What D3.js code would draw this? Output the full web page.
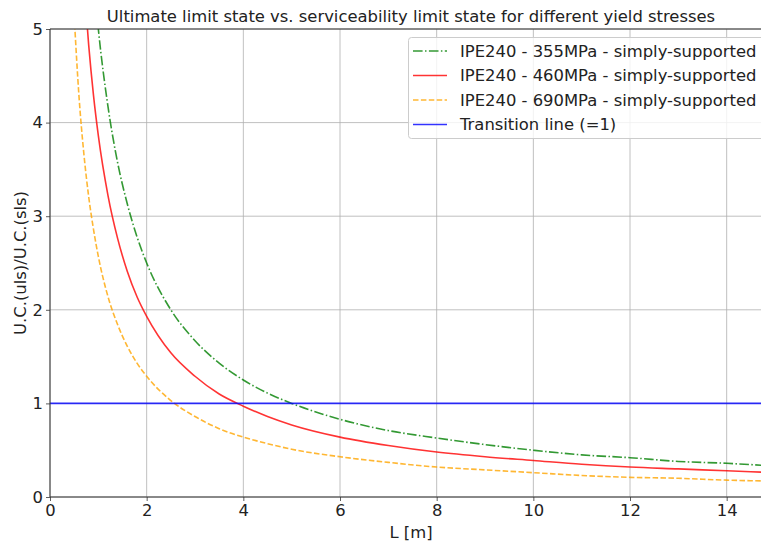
<!DOCTYPE html>
<html><head><meta charset="utf-8">
<script src="https://cdn.jsdelivr.net/npm/d3@7"></script>
<style>body{margin:0;background:#fff}svg{display:block}text{font-family:"DejaVu Sans",sans-serif;fill:#222}</style>
</head><body>
<svg id="c" width="761" height="543"></svg>
<script>
const title = "Ultimate limit state vs. serviceability limit state for different yield stresses";
const xLabel = "L [m]";
const yLabel = "U.C.(uls)/U.C.(sls)";
const xTicks = [0,2,4,6,8,10,12,14];
const yTicks = [0,1,2,3,4,5];
const seriesNames = ["IPE240 - 355MPa - simply-supported","IPE240 - 460MPa - simply-supported","IPE240 - 690MPa - simply-supported","Transition line (=1)"];
const L355 = [0.9,1.0,1.2,1.4,1.6,1.8,2,2.5,3,3.5,4,4.5,5,6,7,8,9,10,11,12,13,14,15];
const V355 = [5.56,5.0,4.17,3.57,3.13,2.78,2.5,2.0,1.67,1.43,1.25,1.11,1.0,0.83,0.71,0.63,0.56,0.5,0.45,0.42,0.38,0.36,0.33];
const L460 = [0.7,0.8,0.9,1.0,1.2,1.4,1.6,1.8,2,2.5,3,3.5,4,4.5,5,6,7,8,9,10,11,12,13,14,15];
const V460 = [5.51,4.83,4.29,3.86,3.22,2.76,2.41,2.14,1.93,1.54,1.29,1.10,0.97,0.86,0.77,0.64,0.55,0.48,0.43,0.39,0.35,0.32,0.30,0.28,0.26];
const L690 = [0.5,0.6,0.7,0.8,0.9,1.0,1.2,1.4,1.6,1.8,2,2.5,3,3.5,4,4.5,5,6,7,8,9,10,11,12,13,14,15];
const V690 = [5.14,4.28,3.67,3.21,2.86,2.57,2.14,1.84,1.61,1.43,1.29,1.03,0.86,0.73,0.64,0.57,0.51,0.43,0.37,0.32,0.29,0.26,0.23,0.21,0.20,0.18,0.17];
const LTrans = [0,15];
const VTrans = [1,1];

const svg = d3.select("#c");
const m = {l:50, r:0, t:29, b:46};
const W = 761, H = 543;
const FS = 16.4;
const x = d3.scaleLinear().domain([0,14.71]).range([m.l, W-m.r]);
const y = d3.scaleLinear().domain([0,5]).range([H-m.b, m.t]);

svg.append("defs").append("clipPath").attr("id","clip").append("rect")
  .attr("x",m.l).attr("y",m.t).attr("width",W-m.r-m.l).attr("height",H-m.b-m.t);

// grid
const g = svg.append("g");
g.selectAll(".gx").data(xTicks).join("line").attr("x1",d=>x(d)).attr("x2",d=>x(d))
  .attr("y1",m.t).attr("y2",H-m.b).attr("stroke","#b0b0b0").attr("stroke-width",0.8);
g.selectAll(".gy").data(yTicks).join("line").attr("x1",m.l).attr("x2",W-m.r)
  .attr("y1",d=>y(d)).attr("y2",d=>y(d)).attr("stroke","#b0b0b0").attr("stroke-width",0.8);

const series = [
  {L:L355, V:V355, color:"#008000", dash:"9.6,2.4,1.5,2.4"},
  {L:L460, V:V460, color:"#ff0000", dash:null},
  {L:L690, V:V690, color:"#ffa500", dash:"5.5,2.4"},
  {L:LTrans, V:VTrans, color:"#0000ff", dash:null}
];
const line = d3.line().x(d=>x(d[0])).y(d=>y(d[1])).curve(d3.curveMonotoneX);
const pg = svg.append("g").attr("clip-path","url(#clip)");
series.forEach(s=>{
  pg.append("path").datum(s.L.map((l,i)=>[l,s.V[i]])).attr("d",line)
    .attr("fill","none").attr("stroke",s.color).attr("stroke-width",1.6)
    .attr("stroke-opacity",0.8).attr("stroke-dasharray",s.dash);
});

// axes
const xa = svg.append("g").attr("transform",`translate(0,${H-m.b})`)
  .call(d3.axisBottom(x).tickValues(xTicks).tickSize(4).tickPadding(3).tickFormat(d3.format("d")));
const ya = svg.append("g").attr("transform",`translate(${m.l},0)`)
  .call(d3.axisLeft(y).tickValues(yTicks).tickSize(4).tickPadding(3).tickFormat(d3.format("d")));
[xa,ya].forEach(a=>{
  a.select(".domain").remove();
  a.selectAll("line").attr("stroke","#333").attr("stroke-width",0.8);
  a.selectAll("text").attr("font-size",FS).attr("font-family","DejaVu Sans").attr("fill","#222");
});
// spines
svg.append("line").attr("x1",m.l).attr("x2",W).attr("y1",H-m.b).attr("y2",H-m.b).attr("stroke","#333").attr("stroke-width",1);
svg.append("line").attr("x1",m.l).attr("x2",W).attr("y1",m.t).attr("y2",m.t).attr("stroke","#333").attr("stroke-width",1);
svg.append("line").attr("x1",m.l).attr("x2",m.l).attr("y1",m.t).attr("y2",H-m.b).attr("stroke","#333").attr("stroke-width",1);

svg.append("text").attr("x",411).attr("y",22).attr("text-anchor","middle").attr("font-size",FS).text(title);
svg.append("text").attr("x",411).attr("y",538).attr("text-anchor","middle").attr("font-size",FS).text(xLabel);
svg.append("text").attr("transform","translate(26,263) rotate(-90)").attr("text-anchor","middle").attr("font-size",FS).text(yLabel);

// legend
const lg = svg.append("g");
lg.append("rect").attr("x",408.5).attr("y",37.5).attr("width",370).attr("height",101).attr("rx",3)
  .attr("fill","#fff").attr("fill-opacity",0.8).attr("stroke","#ccc");
series.forEach((s,i)=>{
  const yy = 51 + i*24.5;
  lg.append("line").attr("x1",413).attr("x2",447).attr("y1",yy).attr("y2",yy)
    .attr("stroke",s.color).attr("stroke-width",1.6).attr("stroke-opacity",0.8).attr("stroke-dasharray",s.dash);
  lg.append("text").attr("x",460).attr("y",yy+5.8).attr("font-size",FS).text(seriesNames[i]);
});
</script>
</body></html>
